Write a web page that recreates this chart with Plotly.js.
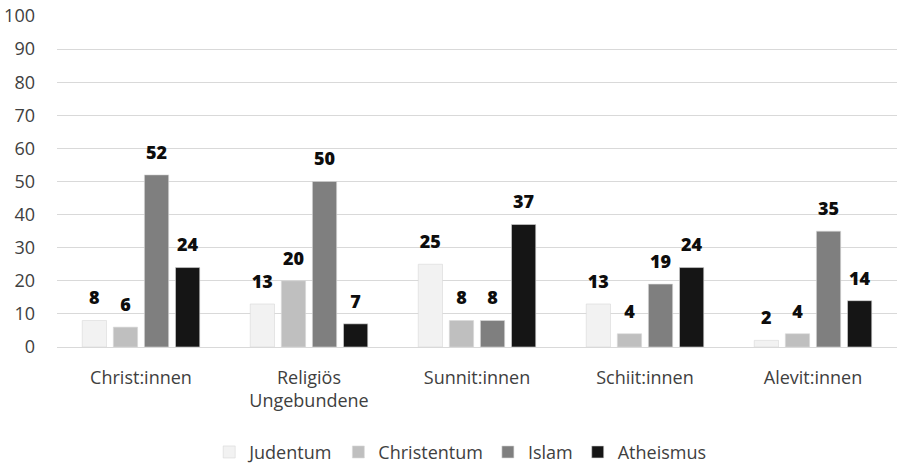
<!DOCTYPE html>
<html><head><meta charset="utf-8">
<script src="https://cdn.plot.ly/plotly-3.0.1.min.js"></script>
<style>html,body{margin:0;padding:0;background:#fff}#c{width:906px;height:463px}</style>
</head><body><div id="c"></div>
<script>
const categories = ["Christ:innen", "Religiös<br>Ungebundene", "Sunnit:innen", "Schiit:innen", "Alevit:innen"];
const judentum = [8, 13, 25, 13, 2];
const christentum = [6, 20, 8, 4, 4];
const islam = [52, 50, 8, 19, 35];
const atheismus = [24, 7, 37, 24, 14];
const seriesNames = ["Judentum", "Christentum", "Islam", "Atheismus"];
const seriesColors = ["#f2f2f2", "#bfbfbf", "#7f7f7f", "#151515"];
const seriesValues = [judentum, christentum, islam, atheismus];

const bars = seriesValues.map((v, i) => ({
  type: "bar", x: categories, y: v, name: seriesNames[i],
  offsetgroup: "g" + i, alignmentgroup: "a",
  marker: {color: seriesColors[i], line: {color: "#d9d9d9", width: 0.6}}
}));
const labels = seriesValues.map((v, i) => ({
  type: "scatter", mode: "markers+text", x: categories, y: v, showlegend: false,
  offsetgroup: "g" + i, alignmentgroup: "a",
  marker: {size: 17, opacity: 0, color: "#fff"},
  text: v.map(String), textposition: "top center", cliponaxis: false,
  textfont: {family: "Noto Sans, Open Sans, sans-serif", size: 18, color: "#0d0d0d", weight: 900}
}));

const layout = {
  width: 906, height: 463,
  margin: {l: 57, r: 9, t: 16, b: 116, autoexpand: false},
  paper_bgcolor: "#fff", plot_bgcolor: "#fff",
  barmode: "group", bargap: 0.26, bargroupgap: 0.22,
  scattermode: "group", scattergap: 0.26,
  font: {family: "Open Sans, Noto Sans, sans-serif", size: 18, color: "#404040"},
  xaxis: {showgrid: false, showline: false, zeroline: false, ticks: "", ticklabelstandoff: 18,
          tickfont: {size: 18, color: "#404040"}},
  yaxis: {range: [0, 100], dtick: 10, showgrid: true, gridcolor: "#d9d9d9", gridwidth: 1,
          zeroline: true, zerolinecolor: "#d9d9d9", zerolinewidth: 1, showline: false, ticks: "",
          ticklabelstandoff: 21, tickfont: {size: 18, color: "#404040"}},
  showlegend: true,
  legend: {orientation: "h", x: 0.48, xanchor: "center", y: -0.318, yanchor: "middle",
           font: {size: 18, color: "#404040"}, traceorder: "normal", itemwidth: 30}
};
Plotly.newPlot("c", bars.concat(labels), layout, {displayModeBar: false, staticPlot: true});
</script></body></html>
